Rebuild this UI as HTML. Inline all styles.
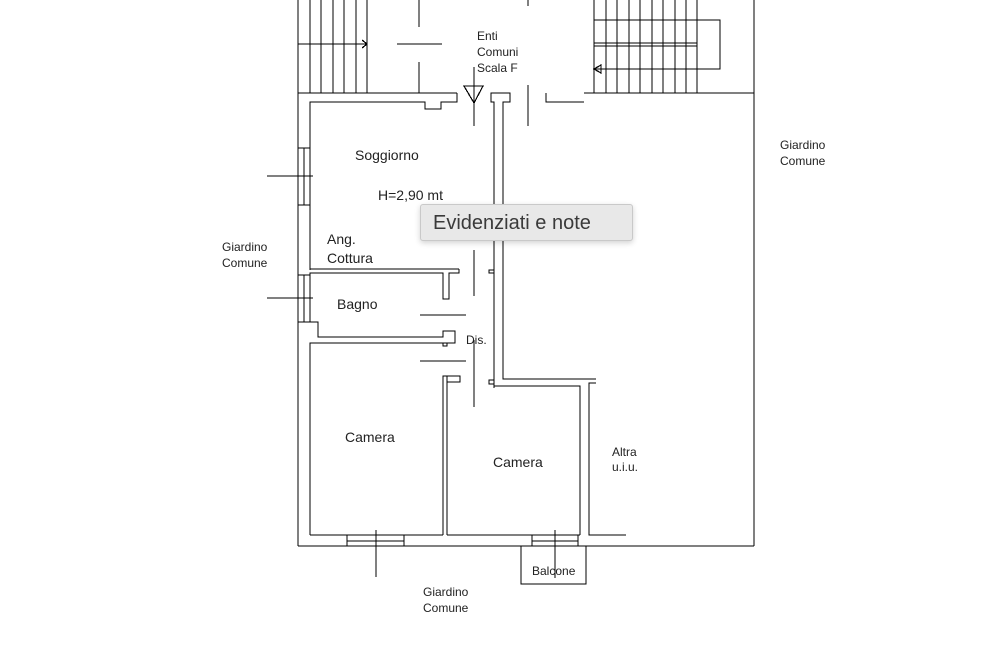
<!DOCTYPE html>
<html><head><meta charset="utf-8"><style>
html,body{margin:0;padding:0;background:#fff;}
svg{display:block;}
.t{font-family:"Liberation Sans",sans-serif;fill:#222;}
#tip{position:absolute;left:420px;top:204px;width:213px;height:37px;background:#e8e8e8;border:1px solid #c9c9c9;border-radius:3px;box-shadow:0 2px 6px rgba(0,0,0,0.18);font-family:"Liberation Sans",sans-serif;font-size:20px;color:#3a3a3a;line-height:37px;padding-left:12px;box-sizing:border-box;}
</style></head><body>
<div style="position:relative;width:982px;height:655px;overflow:hidden">
<svg width="982" height="655" viewBox="0 0 982 655" xmlns="http://www.w3.org/2000/svg">
<g stroke="#000" stroke-width="1.2" fill="none" shape-rendering="crispEdges">
<line x1="298" y1="0" x2="298" y2="546"/>
<line x1="754" y1="0" x2="754" y2="546"/>
<line x1="298" y1="546" x2="754" y2="546"/>
<line x1="298" y1="93" x2="457" y2="93"/>
<line x1="584" y1="93" x2="754" y2="93"/>
<line x1="310" y1="0" x2="310" y2="93"/><line x1="321" y1="0" x2="321" y2="93"/><line x1="333" y1="0" x2="333" y2="93"/><line x1="344" y1="0" x2="344" y2="93"/><line x1="356" y1="0" x2="356" y2="93"/><line x1="367" y1="0" x2="367" y2="93"/>
<line x1="298" y1="44" x2="367" y2="44"/>
<polyline points="362,40 367,44 362,48"/>
<line x1="419" y1="0" x2="419" y2="27"/><line x1="419" y1="62" x2="419" y2="93"/>
<line x1="397" y1="44" x2="442" y2="44"/>
<line x1="528" y1="0" x2="528" y2="6"/><line x1="528" y1="85" x2="528" y2="126"/>
<line x1="594" y1="0" x2="594" y2="93"/><line x1="606" y1="0" x2="606" y2="93"/><line x1="617" y1="0" x2="617" y2="93"/><line x1="629" y1="0" x2="629" y2="93"/><line x1="640" y1="0" x2="640" y2="93"/><line x1="652" y1="0" x2="652" y2="93"/><line x1="663" y1="0" x2="663" y2="93"/><line x1="675" y1="0" x2="675" y2="93"/><line x1="686" y1="0" x2="686" y2="93"/><line x1="697" y1="0" x2="697" y2="93"/>
<polyline points="594,20 720,20 720,69 594,69"/>
<line x1="594" y1="43" x2="697" y2="43"/><line x1="594" y1="46" x2="697" y2="46"/>
<polygon points="594,69 601,65 601,73"/>
<polyline points="457,93 457,102 441,102 441,109 425,109 425,102 310,102 310,270"/>
<polygon points="464,86 483,86 474,103"/>
<line x1="474" y1="67" x2="474" y2="126"/>
<polyline points="494,388 494,102 491,102 491,93 510,93 510,102 503,102 503,379 596,379"/>
<polyline points="494,270 489,270 489,273 494,273"/>
<polyline points="494,380 489,380 489,384 494,384 494,386 580,386 580,535"/>
<polyline points="596,383 589,383 589,535 626,535"/>
<polyline points="546,93 546,102 584,102"/>
<line x1="310" y1="148" x2="298" y2="148"/><line x1="310" y1="205" x2="298" y2="205"/>
<line x1="304" y1="148" x2="304" y2="205"/>
<line x1="267" y1="176" x2="313" y2="176"/>
<line x1="298" y1="275" x2="310" y2="275"/><line x1="304" y1="275" x2="304" y2="322"/>
<line x1="267" y1="298" x2="313" y2="298"/>
<line x1="310" y1="269" x2="459" y2="269"/>
<polyline points="310,275 310,273 443,273 443,299 449,299 449,273 459,273 459,269"/>
<line x1="310" y1="273" x2="310" y2="322"/>
<polyline points="298,322 318,322 318,337 443,337 443,331 455,331 455,343 443,343 443,346 447,346 447,343"/>
<polyline points="310,535 310,343 443,343"/>
<line x1="474" y1="250" x2="474" y2="296"/><line x1="474" y1="340" x2="474" y2="407"/>
<line x1="420" y1="315" x2="466" y2="315"/><line x1="420" y1="361" x2="466" y2="361"/>
<polyline points="443,535 443,376 447,376 447,535"/>
<polyline points="447,376 460,376 460,382 447,382"/>
<line x1="310" y1="535" x2="443" y2="535"/>
<line x1="447" y1="535" x2="580" y2="535"/>
<polyline points="347,546 347,535 404,535 404,546"/><line x1="347" y1="541" x2="404" y2="541"/>
<polyline points="532,546 532,535 578,535 578,546"/><line x1="532" y1="541" x2="578" y2="541"/>
<line x1="376" y1="530" x2="376" y2="577"/>
<polyline points="521,546 521,584 586,584 586,546"/>
<line x1="555" y1="530" x2="555" y2="578"/>
</g>
<g class="t">
<text x="477" y="40" font-size="12">Enti</text>
<text x="477" y="56" font-size="12">Comuni</text>
<text x="477" y="72" font-size="12">Scala F</text>
<text x="355" y="160" font-size="14">Soggiorno</text>
<text x="378" y="200" font-size="14">H=2,90 mt</text>
<text x="327" y="244" font-size="14">Ang.</text>
<text x="327" y="263" font-size="14">Cottura</text>
<text x="337" y="309" font-size="14">Bagno</text>
<text x="466" y="344" font-size="12">Dis.</text>
<text x="345" y="442" font-size="14">Camera</text>
<text x="493" y="467" font-size="14">Camera</text>
<text x="612" y="456" font-size="12">Altra</text>
<text x="612" y="471" font-size="12">u.i.u.</text>
<text x="532" y="575" font-size="12">Balcone</text>
<text x="423" y="596" font-size="12">Giardino</text>
<text x="423" y="612" font-size="12">Comune</text>
<text x="222" y="251" font-size="12">Giardino</text>
<text x="222" y="267" font-size="12">Comune</text>
<text x="780" y="149" font-size="12">Giardino</text>
<text x="780" y="165" font-size="12">Comune</text>
</g>
</svg>
<div id="tip">Evidenziati e note</div>
</div>
</body></html>
